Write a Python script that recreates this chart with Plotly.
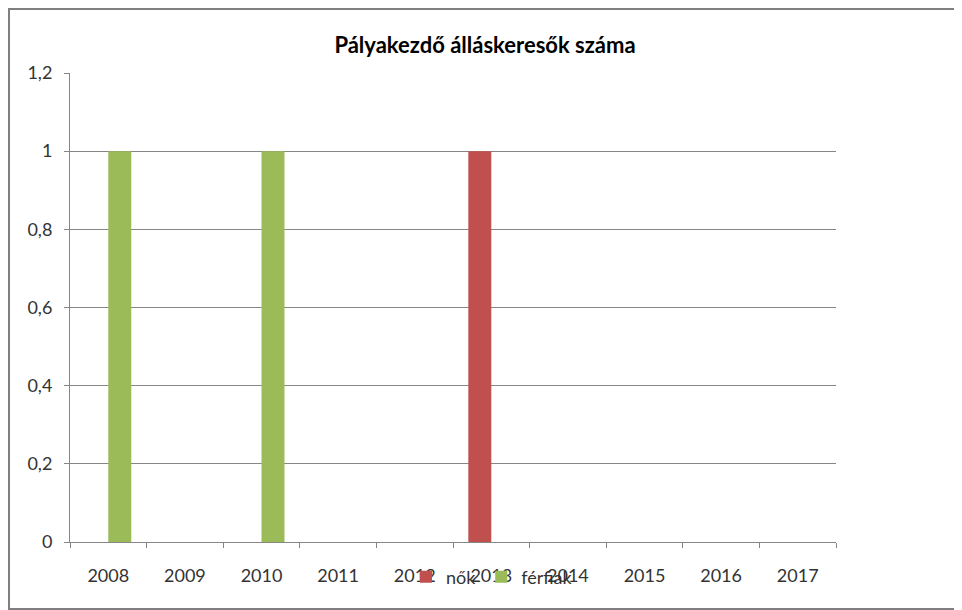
import plotly.graph_objects as go

years = ['2008', '2009', '2010', '2011', '2012', '2013', '2014', '2015', '2016', '2017']
nok = [0, 0, 0, 0, 0, 1, 0, 0, 0, 0]
ferfiak = [1, 0, 1, 0, 0, 0, 0, 0, 0, 0]

fig = go.Figure()
fig.add_trace(go.Bar(x=years, y=nok, name='nők', marker=dict(color='#C0504D', line=dict(width=0))))
fig.add_trace(go.Bar(x=years, y=ferfiak, name='férfiak', marker=dict(color='#9BBB59', line=dict(width=0))))

# page has an 8px body margin, so the figure is a bit smaller than the window
W, H = 954, 602
L, R, T, B = 62, 126, 65, 68
pw, ph = W - L - R, H - T - B

fig.update_layout(
    width=W, height=H,
    margin=dict(l=L, r=R, t=T, b=B, pad=0),
    paper_bgcolor='white', plot_bgcolor='white',
    barmode='group', bargap=0.4, bargroupgap=0,
    separators=', ',
    font=dict(family='Lato', size=18, color='#333333'),
    title=dict(text='<b>Pályakezdő álláskeresők száma</b>', x=0.5, xanchor='center',
               y=1 - 37 / H, yanchor='middle',
               font=dict(family='Lato', size=22, color='black')),
    legend=dict(orientation='h', x=(398 - L) / pw, xanchor='left',
                y=-(569 - (H - B)) / ph, yanchor='middle',
                bgcolor='rgba(0,0,0,0)', font=dict(size=18, color='#333333'),
                itemwidth=30, traceorder='normal'),
    showlegend=True,
)
fig.update_xaxes(type='category', showline=True, linecolor='#868686', linewidth=1,
                 ticks='outside', tickson='boundaries', ticklen=5, tickcolor='#868686',
                 showgrid=False, ticklabelstandoff=17)
fig.update_yaxes(range=[0, 1.2], dtick=0.2, showline=True, linecolor='#868686', linewidth=1,
                 ticks='outside', ticklen=5, tickcolor='#868686',
                 showgrid=True, gridcolor='#868686', gridwidth=1, zeroline=False,
                 ticklabelstandoff=8)

# outer chart border
fig.add_shape(type='rect', xref='paper', yref='paper',
              x0=-(L - 1) / pw, x1=(W - L - 1) / pw, y0=-(B - 1) / ph, y1=(ph + T - 1) / ph,
              line=dict(color='#7f7f7f', width=2), fillcolor='rgba(0,0,0,0)', layer='below')

fig.write_html('out.html')
